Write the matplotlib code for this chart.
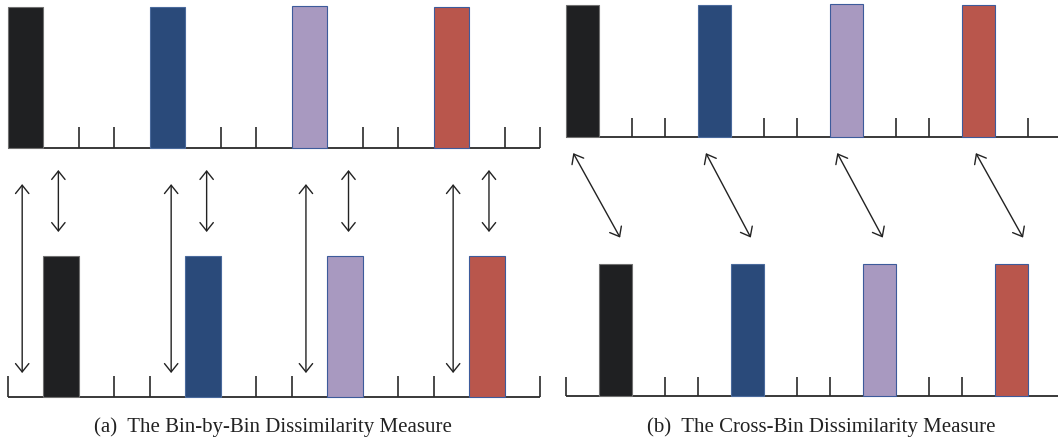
import matplotlib
matplotlib.use('Agg')
import matplotlib.pyplot as plt
import numpy as np

W, H = 1058, 440

# histogram data (bin index of each filled bin and its height)
colors = ['#1f2022', '#2a4a7a', '#a899c0', '#b9564c']
edges = ['#707070', '#4a6a9c', '#3d5b9b', '#3d5b9b']
top_bins = [0, 4, 8, 12]
top_heights = [1.0, 1.0, 1.01, 1.0]
bottom_bins = [1, 5, 9, 13]
bottom_heights = [1.0, 1.0, 1.0, 1.0]
n_bins = 15

# arrows, panel (a): long and short vertical arrows (x in bins, y span)
long_x = [0.4, 4.6, 8.4, 12.55]
long_y = (1.51, 0.17)
short_x = [1.42, 5.6, 9.6, 13.56]
short_y = (1.61, 1.17)
# arrows, panel (b): diagonal arrows (start x, end x)
cross_start = [0.22, 4.24, 8.22, 12.42]
cross_end = [1.64, 5.6, 9.6, 13.85]
cross_y = (1.84, 1.2)

captions = ['(a)  The Bin-by-Bin Dissimilarity Measure',
            '(b)  The Cross-Bin Dissimilarity Measure']

fig = plt.figure(figsize=(W / 100, H / 100), dpi=100)


def make_axes(x0, bin_w, base_px, unit_px, ylo=-0.12):
    yhi = base_px / unit_px
    bottom_px = base_px - ylo * unit_px
    ax = fig.add_axes([x0 / W, 1 - bottom_px / H, n_bins * bin_w / W,
                       (yhi - ylo) * unit_px / H])
    ax.set_xlim(0, n_bins)
    ax.set_ylim(ylo, yhi)
    ax.axis('off')
    return ax


def histogram(ax, bins, heights, offset, tick_len):
    bins = np.array(bins)
    ax.hlines(offset, 0, n_bins, color='#2a2a2a', lw=1.3, clip_on=False, zorder=1)
    filled = set(bins) | set(bins + 1)
    ticks = [b for b in range(n_bins + 1) if b not in filled]
    ax.vlines(ticks, offset, offset + tick_len, color='#2a2a2a', lw=1.2,
              clip_on=False)
    ax.bar(bins + 0.5, heights, width=1, bottom=offset, color=colors,
           edgecolor=edges, linewidth=0.8, zorder=2, clip_on=False)


def arrow(ax, x1, y1, x2, y2):
    ax.annotate('', xy=(x2, y2), xytext=(x1, y1),
                arrowprops=dict(arrowstyle='<->,head_length=0.5,head_width=0.4',
                                mutation_scale=12, lw=1.0, color='#222222',
                                shrinkA=0, shrinkB=0))


# panel (a)
ax_a = make_axes(8, 35.47, 397, 141)
histogram(ax_a, top_bins, top_heights, (397 - 148) / 141, 0.15)
histogram(ax_a, bottom_bins, bottom_heights, 0.0, 0.15)
for x in long_x:
    arrow(ax_a, x, long_y[0], x, long_y[1])
for x in short_x:
    arrow(ax_a, x, short_y[0], x, short_y[1])

# panel (b)
ax_b = make_axes(566, 33.0, 396, 132)
histogram(ax_b, top_bins, top_heights, (396 - 137) / 132, 0.145)
histogram(ax_b, bottom_bins, bottom_heights, 0.0, 0.145)
for xs, xe in zip(cross_start, cross_end):
    arrow(ax_b, xs, cross_y[0], xe, cross_y[1])

fig.text(273 / W, 1 - 427 / H, captions[0], ha='center', va='center',
         fontsize=15, family='Liberation Serif', color='#222222')
fig.text(821 / W, 1 - 427 / H, captions[1], ha='center', va='center',
         fontsize=15, family='Liberation Serif', color='#222222')

fig.savefig('out.png', dpi=100)
